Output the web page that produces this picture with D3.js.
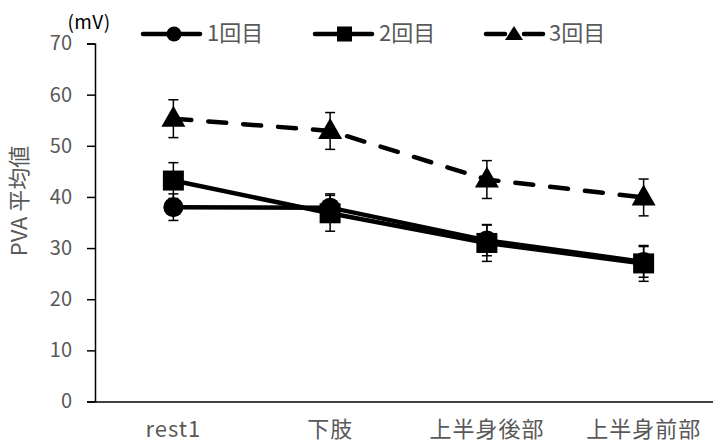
<!DOCTYPE html>
<html><head><meta charset="utf-8">
<script src="https://cdn.jsdelivr.net/npm/d3@7"></script>
<style>body{margin:0;background:#fff}svg{display:block}</style>
</head><body>
<svg id="chart" width="713" height="446"></svg>
<script>
// categories and measured means / standard deviations (mV)
const categories = ["rest1", "下肢", "上半身後部", "上半身前部"];
const seriesNames = ["1回目", "2回目", "3回目"];
const mean1 = [38.0, 37.9, 31.5, 27.3];
const err1  = [2.6, 2.7, 3.0, 3.0];
const mean2 = [43.2, 36.8, 31.0, 27.0];
const err2  = [3.5, 3.5, 3.6, 3.5];
const mean3 = [55.3, 52.9, 43.4, 39.9];
const err3  = [3.7, 3.6, 3.7, 3.6];
const yTicks = [0, 10, 20, 30, 40, 50, 60, 70];

const svg = d3.select("#chart");
const margin = {left: 95, bottom: 401.5};
const x = d3.scaleBand().domain(categories).range([95, 722]);
const y = d3.scaleLinear().domain([0, 70]).range([401.5, 43.5]);
const textColor = "#595959";
const font = "'Noto Sans CJK JP', 'Noto Sans', sans-serif";

// y axis
const yAxis = svg.append("g").attr("transform", `translate(${margin.left},0)`)
  .call(d3.axisLeft(y).tickValues(yTicks).tickSize(8).tickPadding(15));
yAxis.select(".domain").attr("stroke", "#000").attr("stroke-width", 1.5);
yAxis.selectAll(".tick line").attr("stroke", "#000").attr("stroke-width", 1.5);
yAxis.selectAll(".tick text").attr("fill", textColor).attr("font-size", 20).attr("font-family", font);

// x axis
const xAxis = svg.append("g").attr("transform", `translate(0,${margin.bottom})`)
  .call(d3.axisBottom(x).tickSize(0).tickPadding(20));
xAxis.select(".domain").attr("stroke", "#000").attr("stroke-width", 1.5);
xAxis.selectAll(".tick text").attr("fill", textColor).attr("font-size", 22)
  .attr("letter-spacing", 1).attr("font-family", font);

// axis titles
svg.append("text").attr("transform", "translate(27,201) rotate(-90)")
  .attr("text-anchor", "middle").attr("fill", textColor)
  .attr("font-size", 22).attr("font-family", font).text("PVA 平均値");
svg.append("text").attr("x", 89).attr("y", 29).attr("text-anchor", "middle")
  .attr("fill", "#000").attr("font-size", 19).attr("letter-spacing", 0.5)
  .attr("font-family", font).text("(mV)");

const cx = c => x(c) + x.bandwidth() / 2;
const series = [
  {name: seriesNames[0], mean: mean1, err: err1, shape: "circle", dash: null},
  {name: seriesNames[1], mean: mean2, err: err2, shape: "square", dash: null},
  {name: seriesNames[2], mean: mean3, err: err3, shape: "triangle", dash: "18,17"}
];

function marker(g, shape, px, py) {
  if (shape === "circle") g.append("circle").attr("cx", px).attr("cy", py).attr("r", 10).attr("fill", "#000");
  else if (shape === "square") g.append("rect").attr("x", px - 10.5).attr("y", py - 10).attr("width", 21).attr("height", 20).attr("fill", "#000");
  else g.append("path").attr("d", `M${px},${py - 13}L${px + 12},${py + 8}L${px - 12},${py + 8}Z`).attr("fill", "#000");
}

const line = d3.line().x(d => cx(d.c)).y(d => y(d.v));
series.forEach(s => {
  const g = svg.append("g");
  const pts = categories.map((c, i) => ({c, v: s.mean[i], e: s.err[i]}));
  g.append("path").datum(pts).attr("d", line).attr("fill", "none")
    .attr("stroke", "#000").attr("stroke-width", 4.5)
    .attr("stroke-linecap", s.dash ? "round" : "butt")
    .attr("stroke-dasharray", s.dash);
  pts.forEach(p => {
    const px = cx(p.c);
    g.append("line").attr("x1", px).attr("x2", px).attr("y1", y(p.v + p.e)).attr("y2", y(p.v - p.e))
      .attr("stroke", "#000").attr("stroke-width", 1.5);
    [p.v + p.e, p.v - p.e].forEach(v => g.append("line").attr("x1", px - 5).attr("x2", px + 5)
      .attr("y1", y(v)).attr("y2", y(v)).attr("stroke", "#000").attr("stroke-width", 1.5));
    marker(g, s.shape, px, y(p.v));
  });
});

// legend
const legendX = [143, 315, 486];
series.forEach((s, i) => {
  const g = svg.append("g");
  const lx = legendX[i], ly = 34;
  g.append("line").attr("x1", lx).attr("x2", lx + 57).attr("y1", ly).attr("y2", ly)
    .attr("stroke", "#000").attr("stroke-width", 4.5)
    .attr("stroke-dasharray", s.dash ? "19,19" : null).attr("stroke-linecap", "round");
  if (s.shape === "circle") g.append("circle").attr("cx", lx + 31).attr("cy", ly).attr("r", 7.5).attr("fill", "#000");
  else if (s.shape === "square") g.append("rect").attr("x", lx + 22).attr("y", ly - 7.5).attr("width", 15).attr("height", 15).attr("fill", "#000");
  else g.append("path").attr("d", `M${lx + 28},${ly - 8}L${lx + 37},${ly + 6}L${lx + 19},${ly + 6}Z`).attr("fill", "#000");
  g.append("text").attr("x", lx + (s.dash ? 63 : 64)).attr("y", ly + 7).attr("fill", textColor)
    .attr("font-size", 22).attr("font-family", font).text(s.name);
});
</script>
</body></html>
